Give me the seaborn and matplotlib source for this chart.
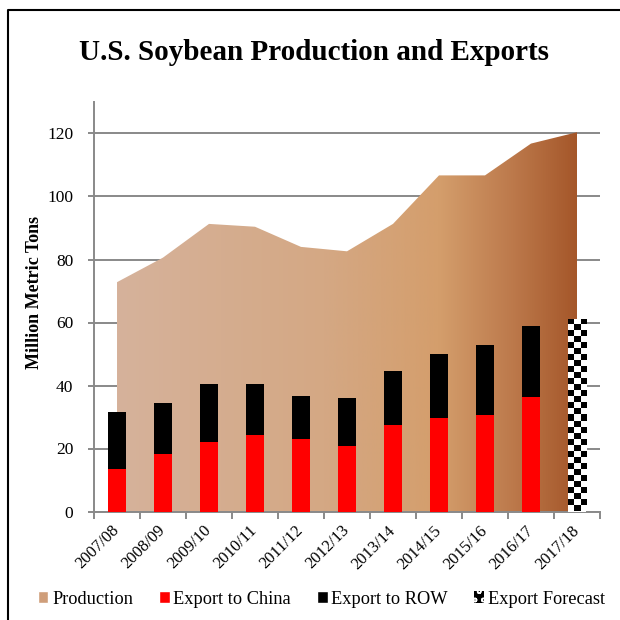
import numpy as np
import pandas as pd
import seaborn as sns
import matplotlib.pyplot as plt
from matplotlib.colors import LinearSegmentedColormap
from matplotlib.patches import Polygon, Patch
from matplotlib.lines import Line2D

years = ['2007/08', '2008/09', '2009/10', '2010/11', '2011/12', '2012/13',
         '2013/14', '2014/15', '2015/16', '2016/17', '2017/18']
production = [72.8, 80.6, 91.3, 90.4, 84.0, 82.6, 91.3, 106.7, 106.7, 116.8, 120.4]
export_total = [31.5, 34.5, 40.4, 40.6, 36.8, 36.1, 44.6, 50.1, 52.7, 59.0, np.nan]
export_china = [13.5, 18.3, 22.2, 24.3, 22.9, 20.8, 27.4, 29.6, 30.5, 36.2, np.nan]
export_forecast = [np.nan] * 10 + [61.2]

df = pd.DataFrame({'year': years, 'production': production,
                   'total': export_total, 'china': export_china,
                   'forecast': export_forecast})

sns.set_style('white')
plt.rcParams['font.family'] = ['Liberation Serif', 'DejaVu Serif']
plt.rcParams['text.color'] = 'black'
plt.rcParams['axes.labelcolor'] = 'black'
plt.rcParams['xtick.color'] = 'black'
plt.rcParams['ytick.color'] = 'black'
gray = '#898989'

fig = plt.figure(figsize=(6.2, 6.2), dpi=100)
ax = fig.add_axes([94/620, 108.5/620, 506/620, 409.5/620])

# production area with horizontal gradient
x = np.arange(len(years))
verts = [(x[0], 0)] + list(zip(x, production)) + [(x[-1], 0)]
area = Polygon(verts, closed=True, facecolor='none', edgecolor='none')
ax.add_patch(area)
cmap = LinearSegmentedColormap.from_list('soy', [(0, '#d6b29b'), (0.45, '#d4a884'),
                                                 (0.7, '#d49e6c'), (0.85, '#be7c4e'),
                                                 (1, '#a5572a')])
grad = np.linspace(0, 1, 256).reshape(1, -1)
im = ax.imshow(grad, cmap=cmap, aspect='auto', zorder=1,
               extent=[x[0], x[-1], 0, max(production)])
im.set_clip_path(area)

# export bars
sns.barplot(data=df, x='year', y='total', order=years, color='black', width=0.4,
            saturation=1, errorbar=None, ax=ax, zorder=3, linewidth=0)
sns.barplot(data=df, x='year', y='china', order=years, color='red', width=0.4,
            saturation=1, errorbar=None, ax=ax, zorder=3, linewidth=0)
n0 = len(ax.patches)
sns.barplot(data=df, x='year', y='forecast', order=years, color='white', width=0.4,
            saturation=1, errorbar=None, ax=ax, zorder=3, linewidth=0)
fb = [p for p in ax.patches[n0:] if p.get_height() > 0][0]
checker = np.indices((32, 3)).sum(axis=0) % 2
im2 = ax.imshow(checker, cmap='gray', aspect='auto', interpolation='nearest', zorder=4,
                extent=[fb.get_x(), fb.get_x() + fb.get_width(), 0, fb.get_height()])
im2.set_clip_path(fb)

ax.set_xlim(-0.5, 10.5)
ax.set_ylim(0, 130)
ax.set_yticks(range(0, 121, 20))
ax.set_xticks(x)
ax.set_xticklabels(years, rotation=45, ha='right', va='center', rotation_mode='anchor')
ax.set_xticks(np.arange(-0.5, 11, 1), minor=True)
ax.set_xlabel('')
ax.set_ylabel('Million Metric Tons', fontsize=13, fontweight='bold')
ax.yaxis.set_label_coords(-0.101, 0.534)

ax.yaxis.grid(True, color=gray, lw=1.4)
ax.xaxis.grid(False)
ax.set_axisbelow(True)
for s in ['top', 'right']:
    ax.spines[s].set_visible(False)
for s in ['left', 'bottom']:
    ax.spines[s].set_color(gray)
    ax.spines[s].set_linewidth(1.4)
ax.tick_params(axis='y', left=True, length=4, width=1.4, color=gray, pad=11, labelsize=12.5)
ax.tick_params(axis='x', which='major', bottom=False, length=0, pad=12, labelsize=12)
ax.tick_params(axis='x', which='minor', bottom=True, length=5, width=1.4, color=gray)

fig.text(0.506, 1 - 52/620, 'U.S. Soybean Production and Exports',
         ha='center', va='center', fontsize=21, fontweight='bold')

handles = [Patch(facecolor='#cf9e7a'), Patch(facecolor='red'), Patch(facecolor='black'),
           Patch(facecolor='black', edgecolor='white', hatch='oo', linewidth=0)]
labels = ['Production', 'Export to China', 'Export to ROW', 'Export Forecast']
fig.legend(handles, labels, loc='center', bbox_to_anchor=(0.519, 1 - 599/620), ncol=4,
           frameon=False, fontsize=13.2, handlelength=0.55, handleheight=0.55,
           handletextpad=0.2, columnspacing=1.45)

# chart border (left and top edges)
fig.add_artist(Line2D([8/620, 8/620, 1], [0, 1 - 10/620, 1 - 10/620],
                      transform=fig.transFigure, color='black', lw=1.5))

fig.savefig('out.png', dpi=100)
